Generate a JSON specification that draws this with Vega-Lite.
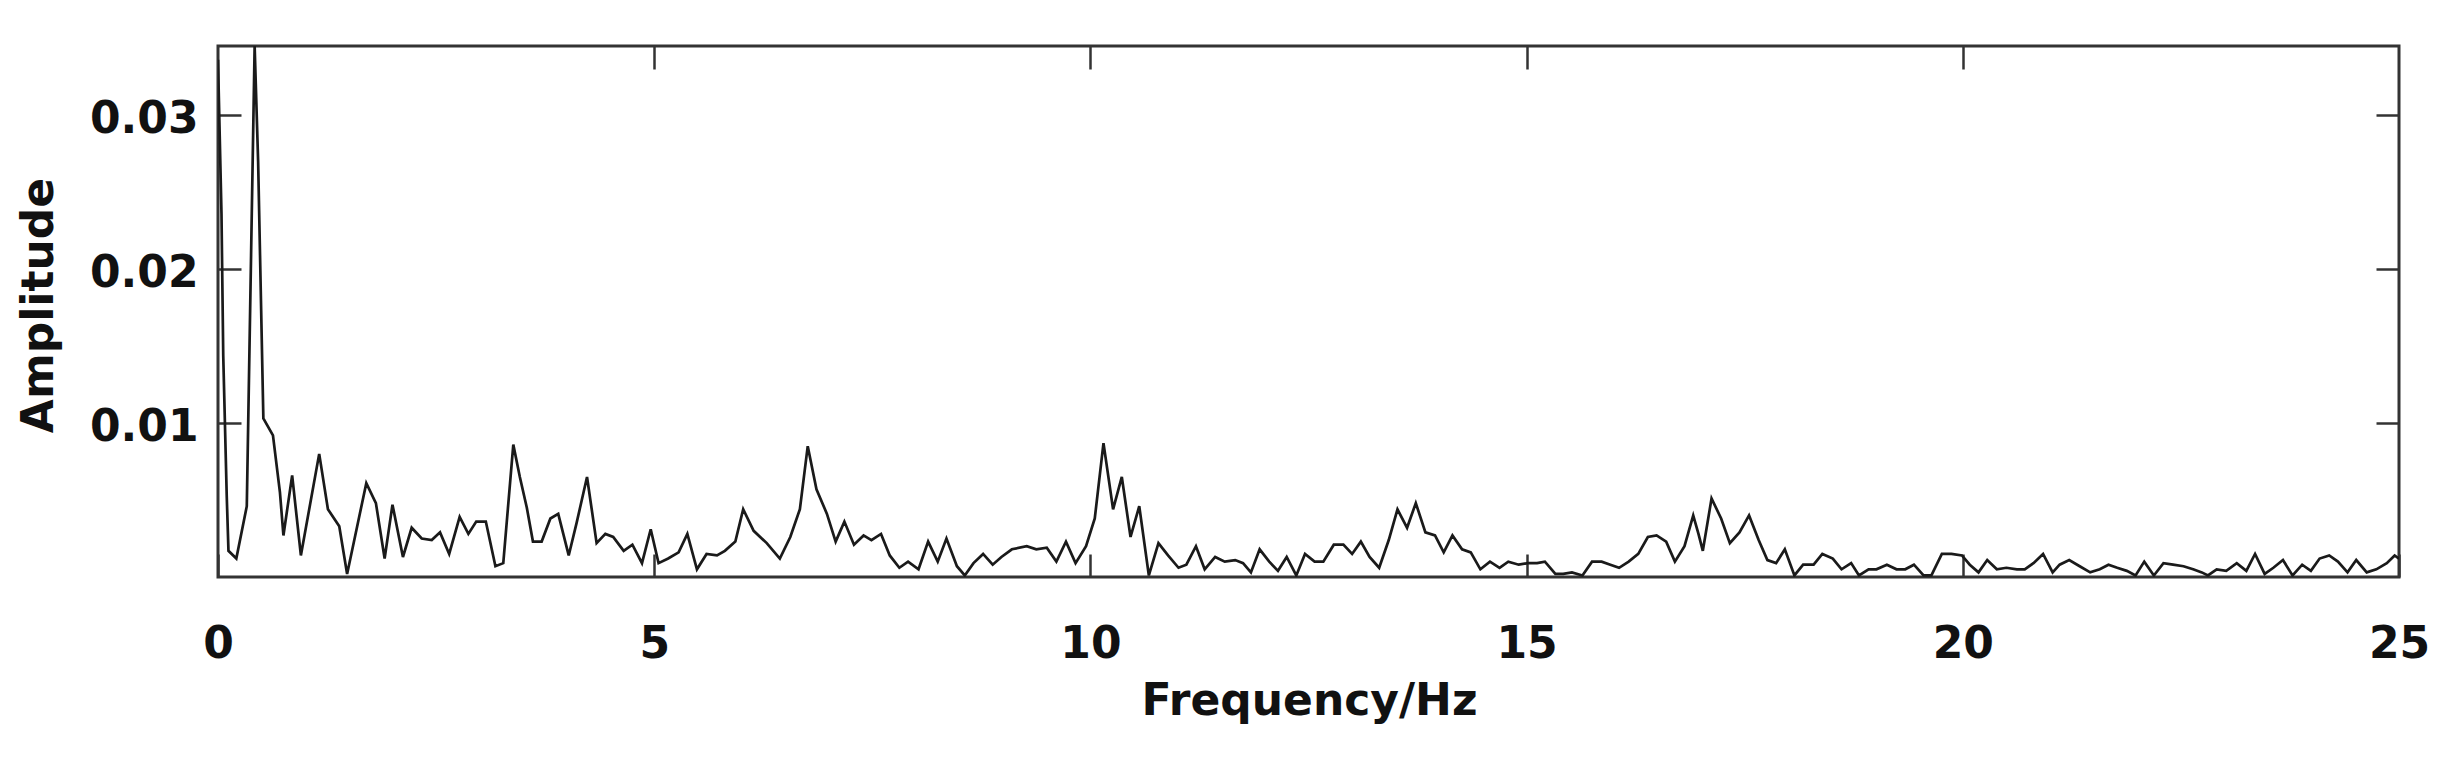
{
  "$schema": "https://vega.github.io/schema/vega-lite/v6.json",
  "width": 2181,
  "height": 531,
  "autosize": {"type": "none"},
  "padding": {"left": 218, "top": 46, "right": 49, "bottom": 182},
  "background": "white",
  "config": {
    "view": {"stroke": "#333333", "strokeWidth": 3},
    "axis": {
      "domain": false,
      "grid": false,
      "tickSize": -23,
      "tickWidth": 2.5,
      "tickColor": "#333333",
      "labelFont": "DejaVu Sans",
      "labelFontWeight": "bold",
      "labelFontSize": 44,
      "labelColor": "#111111",
      "titleFont": "DejaVu Sans",
      "titleFontWeight": "bold",
      "titleFontSize": 44,
      "titleColor": "#111111"
    }
  },
  "data": {
    "values": [
      {"freq": 0.00, "amp": 0.0336}, {"freq": 0.04, "amp": 0.0236}, {"freq": 0.06, "amp": 0.0144}, {"freq": 0.10, "amp": 0.0053},
      {"freq": 0.12, "amp": 0.0017}, {"freq": 0.21, "amp": 0.0012}, {"freq": 0.33, "amp": 0.0046}, {"freq": 0.42, "amp": 0.0345},
      {"freq": 0.46, "amp": 0.0270}, {"freq": 0.52, "amp": 0.0103}, {"freq": 0.63, "amp": 0.0092}, {"freq": 0.71, "amp": 0.0055},
      {"freq": 0.75, "amp": 0.0027}, {"freq": 0.85, "amp": 0.0066}, {"freq": 0.95, "amp": 0.0014}, {"freq": 1.16, "amp": 0.0080},
      {"freq": 1.26, "amp": 0.0044}, {"freq": 1.39, "amp": 0.0033}, {"freq": 1.48, "amp": 0.0002}, {"freq": 1.70, "amp": 0.0061},
      {"freq": 1.81, "amp": 0.0048}, {"freq": 1.91, "amp": 0.0012}, {"freq": 2.00, "amp": 0.0047}, {"freq": 2.12, "amp": 0.0013},
      {"freq": 2.22, "amp": 0.0032}, {"freq": 2.335, "amp": 0.0025}, {"freq": 2.45, "amp": 0.0024}, {"freq": 2.545, "amp": 0.0029},
      {"freq": 2.65, "amp": 0.0015}, {"freq": 2.77, "amp": 0.0039}, {"freq": 2.87, "amp": 0.0028}, {"freq": 2.96, "amp": 0.0036},
      {"freq": 3.07, "amp": 0.0036}, {"freq": 3.18, "amp": 0.0007}, {"freq": 3.27, "amp": 0.0009}, {"freq": 3.385, "amp": 0.0086},
      {"freq": 3.46, "amp": 0.0065}, {"freq": 3.54, "amp": 0.0045}, {"freq": 3.61, "amp": 0.0023}, {"freq": 3.71, "amp": 0.0023},
      {"freq": 3.81, "amp": 0.0038}, {"freq": 3.90, "amp": 0.0041}, {"freq": 4.02, "amp": 0.0014}, {"freq": 4.11, "amp": 0.0035},
      {"freq": 4.23, "amp": 0.0065}, {"freq": 4.34, "amp": 0.0022}, {"freq": 4.44, "amp": 0.0028}, {"freq": 4.53, "amp": 0.0026},
      {"freq": 4.65, "amp": 0.0017}, {"freq": 4.75, "amp": 0.0021}, {"freq": 4.86, "amp": 0.0009}, {"freq": 4.96, "amp": 0.0031},
      {"freq": 5.05, "amp": 0.0009}, {"freq": 5.16, "amp": 0.0012}, {"freq": 5.28, "amp": 0.0016}, {"freq": 5.38, "amp": 0.0028},
      {"freq": 5.49, "amp": 0.0005}, {"freq": 5.60, "amp": 0.0015}, {"freq": 5.72, "amp": 0.0014}, {"freq": 5.81, "amp": 0.0017},
      {"freq": 5.93, "amp": 0.0023}, {"freq": 6.02, "amp": 0.0044}, {"freq": 6.14, "amp": 0.0030}, {"freq": 6.29, "amp": 0.0022},
      {"freq": 6.44, "amp": 0.0012}, {"freq": 6.56, "amp": 0.0026}, {"freq": 6.67, "amp": 0.0044}, {"freq": 6.76, "amp": 0.0085},
      {"freq": 6.86, "amp": 0.0057}, {"freq": 6.98, "amp": 0.0041}, {"freq": 7.08, "amp": 0.0023}, {"freq": 7.18, "amp": 0.0036},
      {"freq": 7.29, "amp": 0.0021}, {"freq": 7.40, "amp": 0.0027}, {"freq": 7.49, "amp": 0.0024}, {"freq": 7.60, "amp": 0.0028},
      {"freq": 7.70, "amp": 0.0014}, {"freq": 7.81, "amp": 0.0006}, {"freq": 7.91, "amp": 0.0010}, {"freq": 8.03, "amp": 0.0005},
      {"freq": 8.14, "amp": 0.0023}, {"freq": 8.25, "amp": 0.0010}, {"freq": 8.35, "amp": 0.0025}, {"freq": 8.47, "amp": 0.0007},
      {"freq": 8.56, "amp": 0.0001}, {"freq": 8.66, "amp": 0.0009}, {"freq": 8.77, "amp": 0.0015}, {"freq": 8.88, "amp": 0.0008},
      {"freq": 8.98, "amp": 0.0013}, {"freq": 9.10, "amp": 0.0018}, {"freq": 9.27, "amp": 0.0020}, {"freq": 9.38, "amp": 0.0018},
      {"freq": 9.50, "amp": 0.0019}, {"freq": 9.61, "amp": 0.0010}, {"freq": 9.72, "amp": 0.0023}, {"freq": 9.83, "amp": 0.0009},
      {"freq": 9.95, "amp": 0.0020}, {"freq": 10.05, "amp": 0.0038}, {"freq": 10.15, "amp": 0.0087}, {"freq": 10.26, "amp": 0.0044},
      {"freq": 10.36, "amp": 0.0065}, {"freq": 10.46, "amp": 0.0026}, {"freq": 10.56, "amp": 0.0046}, {"freq": 10.67, "amp": 0.0001},
      {"freq": 10.78, "amp": 0.0022}, {"freq": 10.89, "amp": 0.0014}, {"freq": 11.01, "amp": 0.0006}, {"freq": 11.10, "amp": 0.0008},
      {"freq": 11.21, "amp": 0.0020}, {"freq": 11.31, "amp": 0.0005}, {"freq": 11.43, "amp": 0.0013}, {"freq": 11.54, "amp": 0.0010},
      {"freq": 11.66, "amp": 0.0011}, {"freq": 11.75, "amp": 0.0009}, {"freq": 11.84, "amp": 0.0003}, {"freq": 11.94, "amp": 0.0018},
      {"freq": 12.05, "amp": 0.0010}, {"freq": 12.15, "amp": 0.0004}, {"freq": 12.25, "amp": 0.0013}, {"freq": 12.36, "amp": 0.0001},
      {"freq": 12.46, "amp": 0.0015}, {"freq": 12.57, "amp": 0.0010}, {"freq": 12.67, "amp": 0.0010}, {"freq": 12.79, "amp": 0.0021},
      {"freq": 12.90, "amp": 0.0021}, {"freq": 13.00, "amp": 0.0015}, {"freq": 13.10, "amp": 0.0023}, {"freq": 13.20, "amp": 0.0013},
      {"freq": 13.31, "amp": 0.0006}, {"freq": 13.42, "amp": 0.0024}, {"freq": 13.52, "amp": 0.0044}, {"freq": 13.63, "amp": 0.0032},
      {"freq": 13.73, "amp": 0.0048}, {"freq": 13.84, "amp": 0.0029}, {"freq": 13.95, "amp": 0.0027}, {"freq": 14.05, "amp": 0.0016},
      {"freq": 14.15, "amp": 0.0027}, {"freq": 14.26, "amp": 0.0018}, {"freq": 14.36, "amp": 0.0016}, {"freq": 14.47, "amp": 0.0005},
      {"freq": 14.58, "amp": 0.0010}, {"freq": 14.69, "amp": 0.0006}, {"freq": 14.79, "amp": 0.0010}, {"freq": 14.91, "amp": 0.0008},
      {"freq": 15.01, "amp": 0.0009}, {"freq": 15.12, "amp": 0.0009}, {"freq": 15.21, "amp": 0.0010}, {"freq": 15.33, "amp": 0.0002},
      {"freq": 15.42, "amp": 0.0002}, {"freq": 15.52, "amp": 0.0003}, {"freq": 15.64, "amp": 0.0001}, {"freq": 15.75, "amp": 0.0010},
      {"freq": 15.86, "amp": 0.0010}, {"freq": 15.96, "amp": 0.0008}, {"freq": 16.06, "amp": 0.0006}, {"freq": 16.17, "amp": 0.0010},
      {"freq": 16.28, "amp": 0.0015}, {"freq": 16.39, "amp": 0.0026}, {"freq": 16.49, "amp": 0.0027}, {"freq": 16.60, "amp": 0.0023},
      {"freq": 16.70, "amp": 0.0010}, {"freq": 16.81, "amp": 0.0020}, {"freq": 16.91, "amp": 0.0040}, {"freq": 16.97, "amp": 0.0028},
      {"freq": 17.02, "amp": 0.0017}, {"freq": 17.12, "amp": 0.0051}, {"freq": 17.23, "amp": 0.0038}, {"freq": 17.33, "amp": 0.0022},
      {"freq": 17.44, "amp": 0.0029}, {"freq": 17.55, "amp": 0.0040}, {"freq": 17.66, "amp": 0.0024}, {"freq": 17.76, "amp": 0.0011},
      {"freq": 17.86, "amp": 0.0009}, {"freq": 17.96, "amp": 0.0018}, {"freq": 18.07, "amp": 0.0001}, {"freq": 18.17, "amp": 0.0008},
      {"freq": 18.29, "amp": 0.0008}, {"freq": 18.39, "amp": 0.0015}, {"freq": 18.51, "amp": 0.0012}, {"freq": 18.61, "amp": 0.0005},
      {"freq": 18.72, "amp": 0.0009}, {"freq": 18.81, "amp": 0.0001}, {"freq": 18.92, "amp": 0.0005}, {"freq": 19.01, "amp": 0.0005},
      {"freq": 19.13, "amp": 0.0008}, {"freq": 19.24, "amp": 0.0005}, {"freq": 19.34, "amp": 0.0005}, {"freq": 19.44, "amp": 0.0008},
      {"freq": 19.55, "amp": 0.0001}, {"freq": 19.64, "amp": 0.0001}, {"freq": 19.76, "amp": 0.0015}, {"freq": 19.87, "amp": 0.0015},
      {"freq": 19.99, "amp": 0.0014}, {"freq": 20.08, "amp": 0.0008}, {"freq": 20.18, "amp": 0.0003}, {"freq": 20.28, "amp": 0.0011},
      {"freq": 20.39, "amp": 0.0005}, {"freq": 20.50, "amp": 0.0006}, {"freq": 20.62, "amp": 0.0005}, {"freq": 20.71, "amp": 0.0005},
      {"freq": 20.81, "amp": 0.0009}, {"freq": 20.92, "amp": 0.0015}, {"freq": 21.03, "amp": 0.0003}, {"freq": 21.11, "amp": 0.0008},
      {"freq": 21.22, "amp": 0.0011}, {"freq": 21.34, "amp": 0.0007}, {"freq": 21.46, "amp": 0.0003}, {"freq": 21.57, "amp": 0.0005},
      {"freq": 21.67, "amp": 0.0008}, {"freq": 21.77, "amp": 0.0006}, {"freq": 21.88, "amp": 0.0004}, {"freq": 21.98, "amp": 0.0001},
      {"freq": 22.08, "amp": 0.0010}, {"freq": 22.19, "amp": 0.0001}, {"freq": 22.30, "amp": 0.0009}, {"freq": 22.41, "amp": 0.0008},
      {"freq": 22.53, "amp": 0.0007}, {"freq": 22.64, "amp": 0.0005}, {"freq": 22.74, "amp": 0.0003}, {"freq": 22.81, "amp": 0.0001},
      {"freq": 22.91, "amp": 0.0005}, {"freq": 23.02, "amp": 0.0004}, {"freq": 23.14, "amp": 0.0009}, {"freq": 23.25, "amp": 0.0004},
      {"freq": 23.35, "amp": 0.0015}, {"freq": 23.46, "amp": 0.0002}, {"freq": 23.56, "amp": 0.0006}, {"freq": 23.67, "amp": 0.0011},
      {"freq": 23.78, "amp": 0.0001}, {"freq": 23.89, "amp": 0.0008}, {"freq": 23.99, "amp": 0.0004}, {"freq": 24.09, "amp": 0.0012},
      {"freq": 24.20, "amp": 0.0014}, {"freq": 24.30, "amp": 0.0010}, {"freq": 24.41, "amp": 0.0003}, {"freq": 24.51, "amp": 0.0011},
      {"freq": 24.63, "amp": 0.0003}, {"freq": 24.74, "amp": 0.0005}, {"freq": 24.86, "amp": 0.0009}, {"freq": 24.95, "amp": 0.0014},
      {"freq": 25.00, "amp": 0.0012}
    ]
  },
  "layer": [
    {
      "mark": {"type": "line", "color": "#1a1a1a", "strokeWidth": 2.7, "clip": true},
      "encoding": {
        "x": {
          "field": "freq", "type": "quantitative",
          "scale": {"domain": [0, 25], "nice": false},
          "axis": {"orient": "bottom", "values": [0, 5, 10, 15, 20, 25], "format": "d", "labelPadding": 68, "labelFlush": false,
                   "title": "Frequency/Hz", "titleX": 1091, "titleY": 137, "titleBaseline": "alphabetic", "titleAlign": "center", "titleAnchor": null}
        },
        "y": {
          "field": "amp", "type": "quantitative",
          "scale": {"domain": [0, 0.0345], "nice": false, "zero": true},
          "axis": {"orient": "left", "values": [0.01, 0.02, 0.03], "format": ".2f", "labelPadding": 43, "labelOffset": 4,
                   "title": "Amplitude", "titleX": -166, "titleY": 259, "titleAngle": -90, "titleBaseline": "alphabetic", "titleAlign": "center"}
        }
      }
    },
    {
      "mark": {"type": "line", "strokeOpacity": 0},
      "encoding": {
        "x": {
          "field": "freq", "type": "quantitative",
          "scale": {"domain": [0, 25], "nice": false},
          "axis": {"orient": "top", "values": [5, 10, 15, 20], "labels": false, "title": null}
        },
        "y": {
          "field": "amp", "type": "quantitative",
          "scale": {"domain": [0, 0.0345], "nice": false, "zero": true},
          "axis": {"orient": "right", "values": [0.01, 0.02, 0.03], "labels": false, "title": null}
        }
      }
    }
  ],
  "resolve": {"axis": {"x": "independent", "y": "independent"}}
}
